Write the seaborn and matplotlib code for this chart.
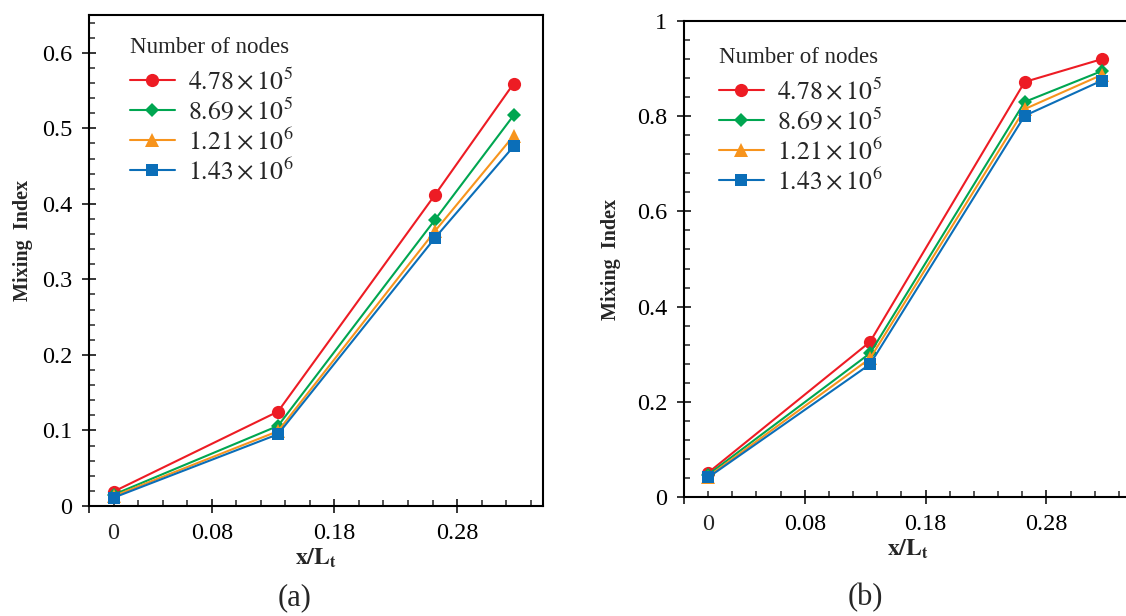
import matplotlib
matplotlib.use("Agg")
import matplotlib.pyplot as plt
import seaborn as sns
import pandas as pd
from matplotlib.ticker import MultipleLocator, FixedLocator, FuncFormatter

# x / L_t positions of the four sampling planes
x_pos = [0.0, 0.134, 0.262, 0.326]

node_labels = [r"$4.78\times10^{5}$", r"$8.69\times10^{5}$",
               r"$1.21\times10^{6}$", r"$1.43\times10^{6}$"]
colors = ["#ED1C24", "#00A651", "#F7941D", "#0B6EB8"]
markers = ["o", "D", "^", "s"]
msizes = [9.5, 7, 9.5, 9]

# panel (a)
mi_a_478 = [0.019, 0.125, 0.412, 0.559]
mi_a_869 = [0.015, 0.106, 0.379, 0.517]
mi_a_121 = [0.013, 0.099, 0.364, 0.490]
mi_a_143 = [0.011, 0.095, 0.355, 0.476]

# panel (b)
mi_b_478 = [0.051, 0.326, 0.872, 0.920]
mi_b_869 = [0.047, 0.302, 0.830, 0.895]
mi_b_121 = [0.043, 0.291, 0.815, 0.887]
mi_b_143 = [0.041, 0.279, 0.801, 0.875]


def make_df(series):
    rows = []
    for lab, vals in zip(node_labels, series):
        for xv, yv in zip(x_pos, vals):
            rows.append({"x": xv, "mi": yv, "nodes": lab})
    return pd.DataFrame(rows)


sns.set_theme(style="ticks")
plt.rcParams["font.family"] = ["Liberation Serif", "DejaVu Serif"]
plt.rcParams["mathtext.fontset"] = "stix"

fig = plt.figure(figsize=(11.26, 6.16), dpi=100)
ax_a = fig.add_axes([89 / 1126, 1 - 506 / 616, 454 / 1126, 491 / 616])
ax_b = fig.add_axes([684 / 1126, 1 - 497 / 616, 447 / 1126, 476 / 616])


def fmt(v, pos):
    return "%g" % round(v, 3)


def draw(ax, series, ymax, ystep, yminor, leg_anchor, ylab_x, ylab_y):
    df = make_df(series)
    sns.lineplot(data=df, x="x", y="mi", hue="nodes", style="nodes",
                 hue_order=node_labels, style_order=node_labels,
                 palette=colors, markers=markers, dashes=False,
                 linewidth=1.5, markeredgewidth=0, legend=False, ax=ax)
    for ln, ms in zip(ax.get_lines(), msizes):
        ln.set_markersize(ms)
        ln.set_clip_on(False)

    ax.set_xlim(-0.02, 0.35)
    ax.set_ylim(0, ymax)
    ax.xaxis.set_major_locator(FixedLocator([-0.02, 0.08, 0.18, 0.28]))
    ax.set_xticklabels(["", "0.08", "0.18", "0.28"])
    ax.xaxis.set_minor_locator(MultipleLocator(0.02))
    ax.yaxis.set_major_locator(MultipleLocator(ystep))
    ax.yaxis.set_minor_locator(MultipleLocator(yminor))
    ax.yaxis.set_major_formatter(FuncFormatter(fmt))
    ax.tick_params(which="major", direction="inout", length=10, width=1.1,
                   labelsize=17.5, pad=7, colors="black")
    ax.tick_params(which="minor", direction="in", length=4, width=1.1)
    ax.annotate("0", xy=(0, 0), xycoords=ax.get_xaxis_transform(),
                xytext=(0, -12), textcoords="offset points",
                ha="center", va="top", fontsize=17.5)
    for sp in ax.spines.values():
        sp.set_linewidth(1.5)
        sp.set_color("black")

    ax.set_xlabel(r"$\mathbf{x/L_{t}}$", fontsize=17, labelpad=2)
    ax.set_ylabel("Mixing  Index", fontsize=14.5, fontweight="bold")
    ax.yaxis.set_label_coords(ylab_x, ylab_y)

    leg = ax.legend(handles=ax.get_lines()[:4], labels=node_labels,
                    title="Number of nodes", loc="upper left",
                    bbox_to_anchor=leg_anchor, frameon=False,
                    fontsize=18.5, title_fontsize=16.5, alignment="left",
                    handlelength=1.75, handletextpad=0.5, labelspacing=0.14,
                    borderpad=0, borderaxespad=0)
    leg._legend_box.sep = 7


draw(ax_a, [mi_a_478, mi_a_869, mi_a_121, mi_a_143], 0.65, 0.1, 0.02,
     (0.09, 0.955), -0.124, 0.54)
draw(ax_b, [mi_b_478, mi_b_869, mi_b_121, mi_b_143], 1.0, 0.2, 0.04,
     (0.078, 0.945), -0.142, 0.5)

fig.text(295 / 1126, 1 - 598 / 616, "(a)", ha="center", va="center", fontsize=22)
fig.text(865 / 1126, 1 - 598 / 616, "(b)", ha="center", va="center", fontsize=22)

fig.savefig("out.png", dpi=100)
